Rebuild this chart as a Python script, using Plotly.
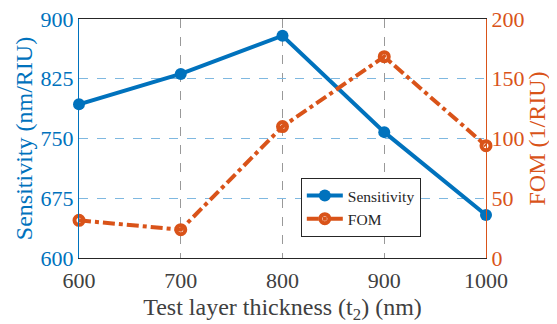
import plotly.graph_objects as go

thickness = [600, 700, 800, 900, 1000]
sensitivity = [793, 831, 879, 758, 654]
fom = [31.5, 23.7, 110, 168.5, 94]

x_ticks = [600, 700, 800, 900, 1000]
y1_ticks = [600, 675, 750, 825, 900]
y2_ticks = [0, 50, 100, 150, 200]

BLUE = "#0072BD"
ORANGE = "#D95319"
FONT = "Liberation Serif"

fig = go.Figure()
fig.add_trace(go.Scatter(
    x=thickness, y=sensitivity, name="Sensitivity", mode="lines+markers",
    line=dict(color=BLUE, width=4), marker=dict(symbol="circle", size=12, color=BLUE),
    yaxis="y", cliponaxis=False))
fig.add_trace(go.Scatter(
    x=thickness, y=fom, name="FOM", mode="lines+markers",
    line=dict(color=ORANGE, width=4, dash="dashdot"),
    marker=dict(symbol="circle-open", size=9, color=ORANGE, line=dict(width=4, color=ORANGE)),
    yaxis="y2", cliponaxis=False))

fig.update_layout(
    width=549, height=316,
    margin=dict(l=71, r=71, t=11, b=66),
    paper_bgcolor="white", plot_bgcolor="white",
    font=dict(family=FONT, size=18, color="#404040"),
    showlegend=True,
    legend=dict(x=0.545, y=0.335, xanchor="left", yanchor="top",
                bgcolor="white", bordercolor="#262626", borderwidth=1,
                font=dict(family=FONT, size=15.5, color="#262626"),
                tracegroupgap=0, itemwidth=36),
    xaxis=dict(range=[600, 1000], tickvals=x_ticks, ticktext=[str(v) for v in x_ticks],
               showgrid=True, gridcolor="#999999", griddash="dash", gridwidth=1,
               showline=True, linecolor="#262626", linewidth=1, mirror=True,
               zeroline=False, ticks="", automargin=False, ticklabeloverflow="allow",
               ticklabelstandoff=3,
               tickfont=dict(family=FONT, size=22, color="#404040"),
               title=dict(text="Test layer thickness (t<sub>2</sub>) (nm)",
                          font=dict(family=FONT, size=24, color="#404040"), standoff=6)),
    yaxis=dict(range=[600, 900], tickvals=y1_ticks, ticktext=[str(v) for v in y1_ticks],
               showgrid=True, gridcolor="#7fb8e0", griddash="dash", gridwidth=1,
               showline=True, linecolor=BLUE, linewidth=1, zeroline=False, ticks="",
               automargin=False, ticklabeloverflow="allow",
               tickfont=dict(family=FONT, size=22, color=BLUE),
               title=dict(text="Sensitivity (nm/RIU)", font=dict(family=FONT, size=24, color=BLUE), standoff=1)),
    yaxis2=dict(range=[0, 200], tickvals=y2_ticks, ticktext=[str(v) for v in y2_ticks],
                overlaying="y", side="right", showgrid=False,
                showline=True, linecolor=ORANGE, linewidth=1, zeroline=False, ticks="",
                automargin=False, ticklabeloverflow="allow",
                tickfont=dict(family=FONT, size=22, color=ORANGE),
                title=dict(text="FOM (1/RIU)", font=dict(family=FONT, size=24, color=ORANGE), standoff=1)),
)

fig.write_html("out.html")
